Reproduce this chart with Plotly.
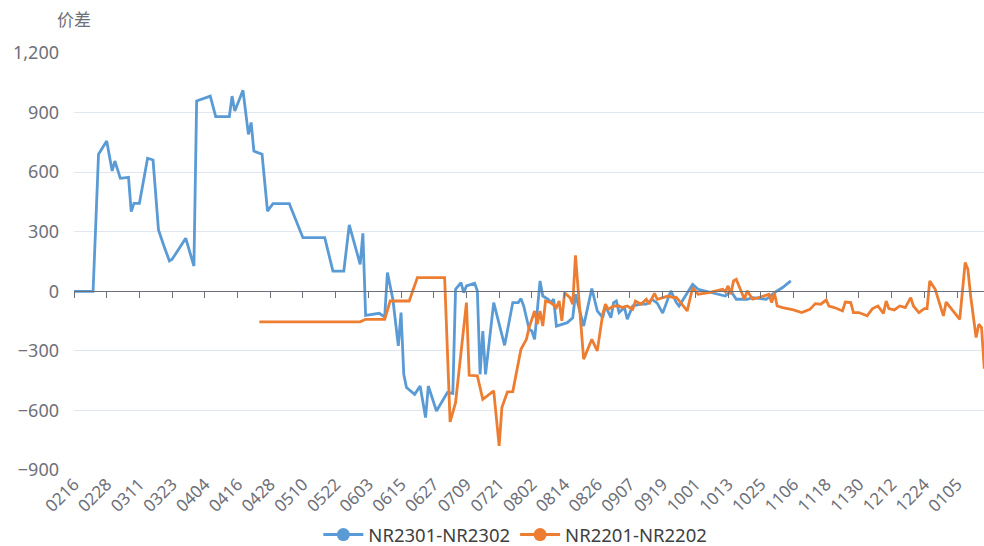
import pandas as pd
import plotly.graph_objects as go

# x-axis categories: every calendar day (MMDD)
categories = list(pd.date_range("2020-02-16", "2021-01-21").strftime("%m%d"))
tick_labels = ["0216", "0228", "0311", "0323", "0404", "0416", "0428", "0510", "0522",
               "0603", "0615", "0627", "0709", "0721", "0802", "0814", "0826", "0907",
               "0919", "1001", "1013", "1025", "1106", "1118", "1130", "1212", "1224", "0105"]

s1_name = "NR2301-NR2302"
s1_dates = ["0216", "0223", "0225", "0228", "0301", "0302", "0304", "0307", "0308", "0309",
            "0311", "0314", "0316", "0318", "0320", "0322", "0323", "0328", "0331", "0401",
            "0406", "0408", "0413", "0414", "0415", "0418", "0420", "0421", "0422", "0425",
            "0427", "0429", "0505", "0510", "0518", "0521", "0525", "0527", "0531", "0601",
            "0602", "0605", "0607", "0609", "0610", "0612", "0614", "0615", "0616", "0617",
            "0620", "0622", "0624", "0625", "0628", "0702", "0704", "0705", "0707", "0708",
            "0709", "0712", "0713", "0714", "0715", "0716", "0719", "0723", "0726", "0728",
            "0729", "0730", "0801", "0802", "0803", "0805", "0806", "0808", "0809", "0810",
            "0811", "0815", "0817", "0818", "0821", "0824", "0826", "0828", "0829", "0831",
            "0901", "0902", "0903", "0905", "0906", "0908", "0911", "0913", "0915", "0917",
            "0919", "0922", "0924", "0925", "0930", "1002", "1006", "1012", "1014", "1016",
            "1020", "1022", "1027", "1030", "1102", "1105"]
s1_values = [0, 0, 690, 757, 606, 656, 569, 574, 401, 443,
             443, 670, 661, 309, 228, 153, 161, 267, 127, 958,
             983, 880, 880, 983, 908, 1012, 790, 850, 706, 690,
             404, 441, 441, 270, 270, 102, 102, 334, 136, 292,
             -121, -116, -111, -129, 94, -40, -275, -107, -418, -485,
             -519, -477, -636, -477, -603, -510, -514, 10, 44, -7,
             27, 40, 2, -418, -200, -418, -57, -272, -57, -57,
             -37, -74, -191, -200, -242, 52, -24, -40, -57, -40,
             -175, -158, -133, -15, -175, 14, -99, -133, -74, -133,
             -57, -49, -107, -82, -141, -74, -65, -65, -40, -60,
             -110, 2, -57, -74, 35, 10, -3, -24, 2, -40,
             -40, -32, -40, -7, 19, 52]

s2_name = "NR2201-NR2202"
s2_dates = ["0424", "0531", "0602", "0609", "0611", "0618", "0621", "0701", "0703", "0705",
            "0709", "0710", "0713", "0715", "0719", "0721", "0722", "0724", "0726", "0729",
            "0731", "0801", "0803", "0804", "0805", "0806", "0807", "0809", "0811", "0812",
            "0813", "0814", "0816", "0817", "0818", "0819", "0821", "0822", "0824", "0826",
            "0828", "0829", "0830", "0901", "0903", "0904", "0906", "0908", "0909", "0911",
            "0913", "0914", "0916", "0917", "0919", "0921", "0923", "0924", "0928", "0930",
            "1002", "1006", "1011", "1012", "1013", "1014", "1015", "1016", "1017", "1019",
            "1020", "1022", "1026", "1028", "1029", "1030", "1031", "1102", "1106", "1109",
            "1112", "1114", "1116", "1118", "1119", "1121", "1124", "1125", "1127", "1128",
            "1130", "1203", "1205", "1207", "1209", "1210", "1211", "1213", "1215", "1217",
            "1219", "1220", "1222", "1224", "1225", "1226", "1228", "1231", "0101", "0106",
            "0108", "0109", "0110", "0112", "0113", "0114", "0115"]
s2_values = [-154, -154, -141, -141, -49, -49, 69, 69, -658, -561,
             -57, -423, -426, -544, -502, -779, -586, -507, -505, -292,
             -242, -183, -99, -166, -99, -175, -49, -57, -82, -49,
             -149, -7, -32, -65, 181, 10, -342, -309, -242, -300,
             -116, -65, -91, -74, -74, -82, -74, -91, -49, -65,
             -40, -65, -10, -40, -32, -24, -32, -30, -99, 19,
             -15, -7, 10, -3, 27, -15, 52, 60, 27, -40,
             2, -40, -24, -15, -57, -7, -74, -82, -94, -107,
             -91, -62, -65, -44, -74, -82, -99, -54, -57, -107,
             -107, -124, -87, -74, -111, -49, -87, -94, -74, -82,
             -32, -74, -107, -87, -87, 52, 10, -124, -54, -141,
             145, 111, -24, -233, -166, -183, -390]

y_ticks = [-900, -600, -300, 0, 300, 600, 900, 1200]
y_title = "价差"

BLUE = "#5B9BD5"
ORANGE = "#ED7D31"
AXIS = "#6E7079"
GRID = "#E0E6F1"
FONT = "Noto Sans, Noto Sans CJK SC, sans-serif"

fig = go.Figure()
fig.add_trace(go.Scatter(x=s1_dates, y=s1_values, mode="lines", name=s1_name,
                         line=dict(color=BLUE, width=2.8), showlegend=False))
fig.add_trace(go.Scatter(x=s2_dates, y=s2_values, mode="lines", name=s2_name,
                         line=dict(color=ORANGE, width=2.8), showlegend=False,
                         xaxis="x2"))
# legend entries (line + circle icon)
for nm, col in [(s1_name, BLUE), (s2_name, ORANGE)]:
    fig.add_trace(go.Scatter(x=[None], y=[None], mode="lines+markers", name=nm,
                             line=dict(color=col, width=3),
                             marker=dict(color=col, size=13)))

ymin, ymax = y_ticks[0], y_ticks[-1]
n_right = 333.9

fig.update_layout(
    width=984, height=546,
    margin=dict(l=74, r=0, t=53, b=76, autoexpand=False),
    paper_bgcolor="white", plot_bgcolor="white",
    font=dict(family=FONT, color=AXIS, size=18),
    xaxis=dict(type="category", categoryorder="array", categoryarray=categories,
               range=[0, n_right], tickmode="array", tickvals=tick_labels,
               ticktext=tick_labels, tickangle=-45, showgrid=False, showline=False,
               zeroline=False, ticks="", automargin=False,
               tickfont=dict(size=17, color=AXIS)),
    xaxis2=dict(type="category", categoryorder="array", categoryarray=categories,
                matches="x", overlaying="x", anchor="free",
                position=(0 - ymin) / (ymax - ymin),
                tickmode="array", tickvals=tick_labels, showticklabels=False,
                ticks="outside", ticklen=6, tickcolor=AXIS, tickwidth=1,
                showline=True, linecolor=AXIS, linewidth=1, showgrid=False,
                zeroline=False, automargin=False),
    yaxis=dict(range=[ymin, ymax], tickmode="array", tickvals=y_ticks,
               tickformat=",d", showgrid=True, gridcolor=GRID, gridwidth=1,
               zeroline=False, showline=False, ticks="", automargin=False,
               ticklabelstandoff=14, tickfont=dict(size=18, color=AXIS)),
    legend=dict(orientation="h", x=0.485, xanchor="center", y=-0.156,
                yanchor="middle", font=dict(size=18.5, color="#404040"),
                itemwidth=40, bgcolor="rgba(0,0,0,0)"),
    annotations=[dict(text=y_title, xref="paper", yref="paper", x=0, y=1,
                      xanchor="center", yanchor="bottom", yshift=20,
                      showarrow=False, font=dict(size=17, color=AXIS))],
)

fig.write_html("out.html",
               config={"displayModeBar": False},
               post_script="document.body.style.margin='0px';"
                           "document.body.style.overflow='hidden';")
